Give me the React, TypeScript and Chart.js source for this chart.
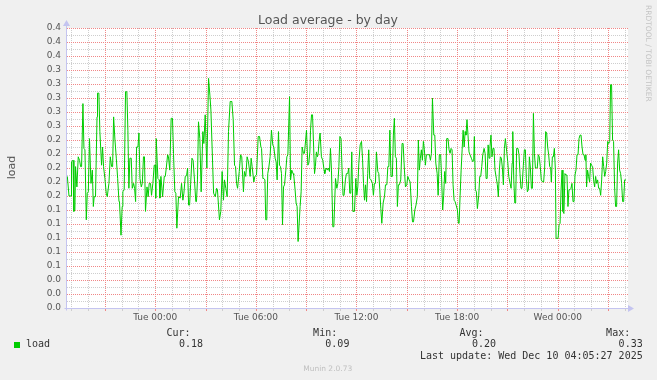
import React, { useEffect, useRef } from 'react';
import { Chart, registerables } from 'chart.js';

Chart.register(...registerables);

// ---- text / labels ----
const chartTitle = 'Load average - by day';
const yAxisTitle = 'load';
const watermark = 'RRDTOOL / TOBI OETIKER';
const footer = 'Munin 2.0.73';
const seriesName = 'load';
const statHeaders = ['Cur:', 'Min:', 'Avg:', 'Max:'];
const statValues = ['0.18', '0.09', '0.20', '0.33'];
const lastUpdate = 'Last update: Wed Dec 10 04:05:27 2025';

// x axis: hours relative to Tue 00:00
const xRangeHours = [-5.26, 28.19];
const xTickHours = [0, 6, 12, 18, 24];
const xTickLabels = ['Tue 00:00', 'Tue 06:00', 'Tue 12:00', 'Tue 18:00', 'Wed 00:00'];
// y axis: labelled every 0.02 from 0 to 0.40
const yRange = [0, 0.4];
const yTickLabels = ['0.0', '0.0', '0.0', '0.1', '0.1', '0.1', '0.1', '0.1', '0.2', '0.2', '0.2',
  '0.2', '0.2', '0.3', '0.3', '0.3', '0.3', '0.3', '0.4', '0.4', '0.4'];

// ---- series: sample time (hours from Tue 00:00) and load ----
const sampleHours = [
  -5.24, -5.14, -5.01, -4.99, -4.90, -4.85, -4.79, -4.75, -4.67, -4.59,
  -4.51, -4.45, -4.39, -4.31, -4.25, -4.19, -4.11, -4.05, -3.99, -3.92,
  -3.83, -3.75, -3.69, -3.64, -3.56, -3.47, -3.44, -3.36, -3.30, -3.20,
  -3.14, -3.08, -3.00, -2.92, -2.86, -2.76, -2.68, -2.60, -2.54, -2.48,
  -2.40, -2.32, -2.24, -2.16, -2.13, -2.04, -1.97, -1.93, -1.85, -1.77,
  -1.69, -1.63, -1.57, -1.51, -1.43, -1.37, -1.29, -1.23, -1.17, -1.11,
  -1.03, -0.97, -0.91, -0.83, -0.77, -0.70, -0.64, -0.58, -0.49, -0.42,
  -0.36, -0.28, -0.22, -0.14, -0.06, 0.00, 0.03,
  0.06, 0.16, 0.24, 0.28, 0.34, 0.44, 0.54, 0.60, 0.66, 0.74,
  0.79, 0.87, 0.95, 1.03, 1.09, 1.17, 1.23, 1.29, 1.39, 1.49,
  1.57, 1.65, 1.71, 1.79, 1.87, 1.93, 1.99, 2.05, 2.11, 2.19,
  2.26, 2.34, 2.42, 2.46, 2.52, 2.58, 2.66, 2.74, 2.84, 2.90,
  2.98, 3.08, 3.18, 3.26, 3.32, 3.48, 3.58, 3.66, 3.71, 3.83,
  3.91, 3.99, 4.07, 4.13, 4.21, 4.29, 4.37, 4.47, 4.57, 4.65,
  4.73, 4.79, 4.85, 4.91, 5.01, 5.09, 5.16, 5.26, 5.32, 5.40,
  5.48, 5.56, 5.66, 5.72,
  5.78, 5.88, 5.94, 6.04, 6.14, 6.22, 6.30, 6.34, 6.42, 6.48,
  6.54, 6.59, 6.65, 6.71, 6.77, 6.85, 6.93, 7.01, 7.07, 7.15,
  7.21, 7.27, 7.31, 7.35, 7.41, 7.47, 7.53, 7.59, 7.65, 7.71,
  7.79, 7.85, 7.91, 8.01, 8.07, 8.14, 8.22, 8.26, 8.34, 8.40,
  8.46, 8.52, 8.56, 8.64, 8.70, 8.76, 8.84, 8.90, 9.02, 9.10,
  9.16, 9.22, 9.26, 9.32, 9.38, 9.50, 9.55, 9.61, 9.67, 9.71,
  9.77, 9.83, 9.91, 9.99, 10.07, 10.11, 10.19, 10.27, 10.33, 10.39,
  10.45, 10.51, 10.59, 10.65, 10.75, 10.83, 10.89, 10.95, 11.01, 11.08,
  11.14, 11.20, 11.26, 11.34,
  11.40, 11.48, 11.54, 11.60, 11.66, 11.72, 11.78, 11.88, 11.96, 12.02,
  12.08, 12.14, 12.22, 12.30, 12.36, 12.42, 12.48, 12.54, 12.60, 12.67,
  12.73, 12.79, 12.87, 12.95, 13.01, 13.07, 13.13, 13.19, 13.27, 13.33,
  13.39, 13.45, 13.51, 13.59, 13.67, 13.73, 13.81, 13.87, 13.93, 13.99,
  14.06, 14.14, 14.20, 14.26, 14.32, 14.38, 14.44, 14.50, 14.56, 14.64,
  14.72, 14.78, 14.86, 14.92, 15.00, 15.06, 15.14, 15.20, 15.28, 15.34,
  15.40, 15.48, 15.55, 15.63, 15.69, 15.75, 15.81, 15.87, 15.93, 15.99,
  16.05, 16.11, 16.17, 16.25, 16.35, 16.41, 16.47, 16.53, 16.61, 16.67,
  16.73, 16.81, 16.87,
  16.94, 17.02, 17.08, 17.14, 17.20, 17.26, 17.32, 17.38, 17.46, 17.52,
  17.58, 17.64, 17.70, 17.76, 17.82, 17.88, 17.94, 18.02, 18.08, 18.12,
  18.18, 18.24, 18.30, 18.36, 18.42, 18.48, 18.53, 18.59, 18.65, 18.71,
  18.77, 18.85, 18.93, 18.99, 19.03, 19.09, 19.15, 19.21, 19.29, 19.35,
  19.41, 19.47, 19.53, 19.61, 19.67, 19.73, 19.79, 19.85, 19.91, 19.96,
  20.02, 20.08, 20.14, 20.20, 20.26, 20.34, 20.40, 20.46, 20.52, 20.58,
  20.64, 20.70, 20.76, 20.82, 20.88, 20.96, 21.02, 21.08, 21.16, 21.22,
  21.28, 21.32, 21.38, 21.44, 21.49, 21.55, 21.63, 21.69, 21.75, 21.81,
  21.87, 21.95, 22.01, 22.07, 22.13, 22.19, 22.25, 22.31, 22.37, 22.43,
  22.49, 22.55, 22.61, 22.67, 22.73, 22.78, 22.84, 22.90, 22.96, 23.02,
  23.10, 23.16, 23.22, 23.28, 23.34, 23.40, 23.46, 23.52, 23.58, 23.62,
  23.68, 23.74, 23.80, 23.86, 23.90, 23.96, 24.02, 24.08, 24.14, 24.20,
  24.26, 24.31, 24.37, 24.43, 24.49, 24.55, 24.61, 24.67, 24.73, 24.79,
  24.85, 24.91, 24.97, 25.03, 25.09, 25.15, 25.21, 25.27, 25.33, 25.39,
  25.45, 25.51, 25.57, 25.63, 25.68, 25.72, 25.78, 25.84, 25.90, 25.96,
  26.02, 26.08, 26.14, 26.20, 26.26, 26.32, 26.38, 26.44, 26.50, 26.56,
  26.62, 26.68, 26.74, 26.80, 26.86, 26.92, 26.98, 27.04, 27.10, 27.15,
  27.21, 27.27, 27.33, 27.39, 27.45, 27.51, 27.57, 27.63, 27.69, 27.75,
  27.81, 27.87, 27.93, 27.99, 28.07,
];

const loadValues = [
  .188, .160, .160, .209, .211, .138, .140, .202, .173, .216,
  .211, .202, .202, .292, .228, .226, .126, .164, .166, .242,
  .178, .197, .145, .159, .159, .273, .307, .307, .252, .204,
  .230, .202, .185, .164, .159, .178, .216, .202, .202, .273,
  .240, .214, .185, .152, .152, .104, .145, .166, .169, .309,
  .309, .254, .171, .214, .214, .171, .178, .171, .152, .230,
  .230, .250, .185, .173, .178, .216, .216, .138, .173, .159,
  .178, .178, .161, .178, .204, .204, .157,
  .242, .185, .183, .157, .188, .159, .188, .188, .200, .219,
  .216, .197, .271, .271, .221, .166, .164, .114, .159, .157,
  .178, .154, .164, .188, .189, .200, .147, .147, .176, .214,
  .211, .183, .152, .152, .183, .266, .242, .166, .252, .235,
  .276, .200, .328, .304, .283, .164, .159, .171, .169, .126,
  .138, .195, .154, .183, .171, .159, .252, .295, .295, .269,
  .204, .202, .178, .171, .195, .219, .216, .166, .195, .188,
  .216, .209, .188, .214,
  .202, .180, .188, .190, .245, .245, .230, .228, .185, .185,
  .183, .126, .126, .192, .200, .216, .254, .233, .230, .214,
  .209, .183, .183, .252, .204, .202, .192, .119, .173, .176,
  .197, .216, .219, .302, .183, .197, .192, .190, .169, .150,
  .145, .095, .095, .145, .166, .230, .221, .221, .254, .204,
  .207, .223, .254, .276, .276, .192, .202, .223, .216, .219,
  .238, .250, .216, .211, .197, .192, .200, .197, .200, .195,
  .228, .197, .116, .116, .185, .171, .178, .202, .245, .242,
  .197, .161, .161, .183,
  .192, .192, .200, .164, .164, .223, .138, .138, .185, .161,
  .173, .207, .233, .238, .214, .178, .154, .176, .152, .192,
  .226, .185, .183, .178, .161, .178, .178, .223, .195, .192,
  .169, .142, .121, .150, .159, .176, .176, .202, .202, .254,
  .188, .188, .247, .271, .216, .214, .145, .176, .176, .183,
  .235, .235, .197, .173, .176, .188, .183, .180, .145, .123,
  .123, .140, .147, .159, .240, .197, .214, .226, .211, .238,
  .226, .204, .219, .219, .219, .211, .221, .300, .247, .247,
  .207, .192, .161,
  .219, .219, .183, .140, .161, .195, .178, .242, .242, .226,
  .221, .228, .226, .176, .154, .152, .147, .140, .121, .121,
  .161, .197, .226, .254, .230, .252, .247, .269, .247, .223,
  .219, .214, .209, .211, .245, .169, .166, .142, .161, .188,
  .188, .202, .219, .228, .221, .185, .185, .233, .214, .230,
  .247, .216, .228, .228, .197, .185, .176, .159, .197, .216,
  .214, .200, .176, .228, .242, .223, .209, .188, .178, .171,
  .207, .252, .183, .150, .150, .228, .228, .219, .192, .171,
  .171, .204, .226, .226, .185, .166, .169, .216, .200, .171,
  .171, .278, .221, .200, .200, .200, .219, .216, .202, .183,
  .180, .180, .200, .252, .250, .230, .219, .202, .200, .180,
  .216, .216, .228, .197, .0995, .0995, .0995, .119, .121, .169,
  .197, .138, .135, .192, .190, .190, .145, .169, .169, .171,
  .178, .152, .152, .190, .197, .219, .219, .242, .247, .247,
  .230, .219, .219, .211, .219, .173, .197, .188, .180, .207,
  .204, .202, .183, .173, .188, .178, .183, .171, .171, .161,
  .183, .216, .202, .188, .195, .207, .238, .235, .238, .319,
  .319, .240, .238, .173, .145, .145, .207, .226, .197, .192,
  .178, .152, .152, .183, .183,
];

// ---- styles ----
const LINE_GREEN = '#00cc00';
const MAJOR_GRID = 'rgb(240,135,135)';
const MINOR_GRID = 'rgb(206,206,206)';
const AXIS_COLOR = 'rgb(196,196,240)';
const BG = '#f0f0f0';
const SANS = '"DejaVu Sans", sans-serif';
const MONO = '"DejaVu Sans Mono", monospace';

const hourGrid: number[] = [];
for (let h = Math.ceil(xRangeHours[0]); h <= Math.floor(xRangeHours[1]); h++) hourGrid.push(h);
const yGrid: number[] = [];
for (let k = 0; k <= (yTickLabels.length - 1) * 2; k++) yGrid.push(k / 100);

const muninPlugin = {
  id: 'munin',
  beforeDraw(chart: any) {
    const { ctx, chartArea: a } = chart;
    ctx.save();
    ctx.fillStyle = BG;
    ctx.fillRect(0, 0, chart.width, chart.height);
    ctx.fillStyle = '#ffffff';
    ctx.fillRect(a.left, a.top, a.right - a.left, a.bottom - a.top);
    ctx.restore();
  },
  beforeDatasetsDraw(chart: any) {
    const { ctx, chartArea: a, scales } = chart;
    const left = Math.round(a.left);
    const right = Math.round(a.right);
    const top = Math.round(a.top);
    const bottom = Math.round(a.bottom);
    ctx.save();
    const drawV = (col: number, color: string) => {
      ctx.fillStyle = color;
      for (let y = top; y < bottom; y += 2) ctx.fillRect(col, y, 1, 1);
      ctx.fillRect(col, bottom + 1, 1, 2);
    };
    const drawH = (row: number, color: string) => {
      ctx.fillStyle = color;
      for (let x = left; x < right; x += 2) ctx.fillRect(x, row, 1, 1);
    };
    const hMajor: number[] = [];
    yGrid.forEach((v, i) => {
      const row = Math.round(scales.y.getPixelForValue(v));
      if (i % 2 === 0) hMajor.push(row);
      else drawH(row, MINOR_GRID);
    });
    const vMajor: number[] = [];
    hourGrid.forEach((h) => {
      const col = Math.round(scales.x.getPixelForValue(h));
      if (Math.abs(h % 3) === 0) vMajor.push(col);
      else drawV(col, MINOR_GRID);
    });
    hMajor.forEach((r) => drawH(r, MAJOR_GRID));
    vMajor.forEach((c) => drawV(c, MAJOR_GRID));

    // axes
    const ax = left - 0.5;
    const ay = bottom + 0.5;
    ctx.strokeStyle = AXIS_COLOR;
    ctx.fillStyle = AXIS_COLOR;
    ctx.lineWidth = 1;
    ctx.beginPath();
    ctx.moveTo(ax, ay + 2);
    ctx.lineTo(ax, top - 2);
    ctx.moveTo(ax - 2, ay);
    ctx.lineTo(right, ay);
    ctx.stroke();
    ctx.beginPath();
    ctx.moveTo(ax - 3.5, top - 2);
    ctx.lineTo(ax + 3.5, top - 2);
    ctx.lineTo(ax, top - 8);
    ctx.closePath();
    ctx.fill();
    ctx.beginPath();
    ctx.moveTo(right, ay - 3.5);
    ctx.lineTo(right, ay + 3.5);
    ctx.lineTo(right + 6, ay);
    ctx.closePath();
    ctx.fill();
    ctx.restore();
  },
  afterDraw(chart: any) {
    const { ctx } = chart;
    ctx.save();
    ctx.fillStyle = '#555';
    ctx.font = `12.5px ${SANS}`;
    ctx.textAlign = 'center';
    ctx.textBaseline = 'alphabetic';
    ctx.fillText(chartTitle, 328, 24);
    ctx.save();
    ctx.translate(15, 167.5);
    ctx.rotate(-Math.PI / 2);
    ctx.font = `11px ${SANS}`;
    ctx.fillText(yAxisTitle, 0, 0);
    ctx.restore();
    ctx.save();
    ctx.translate(645.5, 5);
    ctx.rotate(Math.PI / 2);
    ctx.font = `7.5px ${SANS}`;
    ctx.fillStyle = '#c4c4c4';
    ctx.textAlign = 'left';
    ctx.fillText(watermark, 0, 0);
    ctx.restore();
    ctx.fillStyle = LINE_GREEN;
    ctx.fillRect(14, 342, 6, 6);
    ctx.fillStyle = '#333';
    ctx.font = `10px ${MONO}`;
    ctx.textBaseline = 'middle';
    ctx.textAlign = 'left';
    ctx.fillText(seriesName, 26, 344.5);
    ctx.textAlign = 'right';
    const headerRight = [190.6, 337.2, 483.5, 630.2];
    const valueRight = [203, 349.4, 496, 642.7];
    statHeaders.forEach((h, i) => ctx.fillText(h, headerRight[i], 333));
    statValues.forEach((v, i) => ctx.fillText(v, valueRight[i], 344.5));
    ctx.fillText(lastUpdate, 642.7, 356.3);
    ctx.fillStyle = '#c0c0c0';
    ctx.font = `7.5px ${SANS}`;
    ctx.textAlign = 'center';
    ctx.fillText(footer, 327.7, 369);
    ctx.restore();
  },
};

export default function App() {
  const canvasRef = useRef<HTMLCanvasElement>(null);

  useEffect(() => {
    const canvas = canvasRef.current;
    if (!canvas) return;
    const n = Math.min(sampleHours.length, loadValues.length);
    const points = [];
    for (let i = 0; i < n; i++) points.push({ x: sampleHours[i], y: loadValues[i] });

    const chart = new Chart(canvas, {
      type: 'line',
      data: {
        datasets: [
          {
            label: seriesName,
            data: points,
            borderColor: LINE_GREEN,
            borderWidth: 1,
            pointRadius: 0,
            tension: 0,
            fill: false,
          },
        ],
      },
      options: {
        responsive: false,
        animation: false,
        devicePixelRatio: 1,
        events: [],
        layout: { padding: { top: 28, right: 29, left: 0, bottom: 0 } },
        plugins: {
          legend: { display: false },
          title: { display: false },
          tooltip: { enabled: false },
        },
        scales: {
          x: {
            type: 'linear',
            min: xRangeHours[0],
            max: xRangeHours[1],
            afterBuildTicks: (s: any) => {
              s.ticks = hourGrid.map((v) => ({ value: v }));
            },
            afterFit: (s: any) => {
              s.height = 72;
            },
            grid: { display: false, drawTicks: false },
            border: { display: false },
            ticks: {
              autoSkip: false,
              maxRotation: 0,
              minRotation: 0,
              padding: 4,
              color: '#555',
              font: { family: SANS, size: 9 },
              callback: (v: any) => {
                const i = xTickHours.indexOf(Math.round(Number(v)));
                return i >= 0 ? xTickLabels[i] : '';
              },
            },
          },
          y: {
            type: 'linear',
            min: yRange[0],
            max: yRange[1],
            afterBuildTicks: (s: any) => {
              s.ticks = yGrid.map((v) => ({ value: v }));
            },
            afterFit: (s: any) => {
              s.width = 67;
            },
            grid: { display: false, drawTicks: false },
            border: { display: false },
            ticks: {
              autoSkip: false,
              padding: 6,
              color: '#555',
              font: { family: SANS, size: 9 },
              callback: (_v: any, i: number) => (i % 2 === 0 ? yTickLabels[i / 2] : ''),
            },
          },
        },
      },
      plugins: [muninPlugin],
    });
    return () => chart.destroy();
  }, []);

  return (
    <div style={{ position: 'fixed', left: 0, top: 0, width: 657, height: 380, background: BG }}>
      <canvas
        ref={canvasRef}
        width={657}
        height={380}
        style={{ display: 'block', width: 657, height: 380 }}
      />
    </div>
  );
}
